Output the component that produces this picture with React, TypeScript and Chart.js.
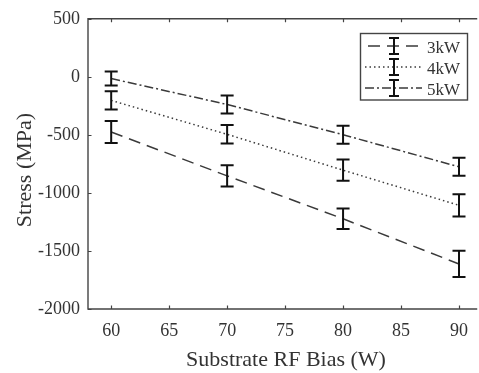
import React, { useEffect, useRef } from 'react';
import { Chart, registerables } from 'chart.js';

Chart.register(...registerables);

const xValues = [60, 70, 80, 90];
const stress3kW = [-475, -853, -1223, -1612];
const err3kW = [95, 92, 88, 113];
const stress4kW = [-203, -495, -804, -1107];
const err4kW = [78, 80, 91, 96];
const stress5kW = [-15, -238, -499, -775];
const err5kW = [60, 78, 78, 78];
const seriesLabels = ['3kW', '4kW', '5kW'];
const xTicks = [60, 65, 70, 75, 80, 85, 90];
const yTicks = [500, 0, -500, -1000, -1500, -2000];

const FONT = "'Liberation Serif', 'Times New Roman', serif";
const LINE_COLOR = '#3a3a3a';
const TEXT_COLOR = '#333';

const dashes = [[12, 7], [1.5, 3], [9, 3, 2, 3]];
const errors = [err3kW, err4kW, err5kW];
const values = [stress3kW, stress4kW, stress5kW];

const framePlugin = {
  id: 'frame',
  afterDraw(chart: any) {
    const { ctx, chartArea } = chart;
    const { left, right, top, bottom } = chartArea;
    const xs = chart.scales.x;
    const ys = chart.scales.y;
    ctx.save();
    ctx.strokeStyle = '#444';
    ctx.lineWidth = 1.4;
    ctx.setLineDash([]);
    ctx.beginPath();
    ctx.moveTo(right + 2, top);
    ctx.lineTo(left, top);
    ctx.lineTo(left, bottom);
    ctx.lineTo(right + 2, bottom);
    ctx.stroke();
    ctx.lineWidth = 1.2;
    ctx.beginPath();
    xTicks.forEach((v) => {
      const px = Math.round(xs.getPixelForValue(v)) + 0.5;
      ctx.moveTo(px, bottom);
      ctx.lineTo(px, bottom - 3.5);
      ctx.moveTo(px, top);
      ctx.lineTo(px, top + 3.5);
    });
    yTicks.forEach((v) => {
      const py = Math.round(ys.getPixelForValue(v)) + 0.5;
      ctx.moveTo(left, py);
      ctx.lineTo(left + 3.5, py);
    });
    ctx.stroke();
    ctx.restore();
  },
};

const errorBarPlugin = {
  id: 'errorBars',
  afterDatasetsDraw(chart: any) {
    const { ctx } = chart;
    const xs = chart.scales.x;
    const ys = chart.scales.y;
    ctx.save();
    ctx.strokeStyle = '#111';
    ctx.lineWidth = 2;
    ctx.setLineDash([]);
    values.forEach((vals, si) => {
      vals.forEach((v, i) => {
        const px = xs.getPixelForValue(xValues[i]);
        const yTop = ys.getPixelForValue(v + errors[si][i]);
        const yBot = ys.getPixelForValue(v - errors[si][i]);
        ctx.beginPath();
        ctx.moveTo(px, yTop);
        ctx.lineTo(px, yBot);
        ctx.moveTo(px - 6.5, yTop);
        ctx.lineTo(px + 6.5, yTop);
        ctx.moveTo(px - 6.5, yBot);
        ctx.lineTo(px + 6.5, yBot);
        ctx.stroke();
      });
    });
    ctx.restore();
  },
};

const legendPlugin = {
  id: 'customLegend',
  afterDraw(chart: any) {
    const { ctx } = chart;
    const bx = 360.5, by = 33.5, bw = 107, bh = 66.5;
    ctx.save();
    ctx.fillStyle = '#fff';
    ctx.fillRect(bx, by, bw, bh);
    ctx.strokeStyle = '#444';
    ctx.lineWidth = 1.4;
    ctx.setLineDash([]);
    ctx.strokeRect(bx, by, bw, bh);
    const rows = [46, 67, 88];
    seriesLabels.forEach((label, i) => {
      const y = rows[i];
      ctx.strokeStyle = LINE_COLOR;
      ctx.lineWidth = 1.5;
      ctx.setLineDash(dashes[i]);
      ctx.lineDashOffset = i === 0 ? -3 : 0;
      ctx.beginPath();
      ctx.moveTo(365, y);
      ctx.lineTo(422, y);
      ctx.stroke();
      ctx.setLineDash([]);
      ctx.lineDashOffset = 0;
      ctx.strokeStyle = '#111';
      ctx.lineWidth = 2;
      ctx.beginPath();
      ctx.moveTo(394, y - 8);
      ctx.lineTo(394, y + 8);
      ctx.moveTo(389, y - 8);
      ctx.lineTo(399, y - 8);
      ctx.moveTo(389, y + 8);
      ctx.lineTo(399, y + 8);
      ctx.stroke();
      ctx.fillStyle = TEXT_COLOR;
      ctx.font = `17px ${FONT}`;
      ctx.textAlign = 'left';
      ctx.textBaseline = 'alphabetic';
      ctx.fillText(label, 427, y + 7);
    });
    ctx.restore();
  },
};

const titlePlugin = {
  id: 'axisTitles',
  afterDraw(chart: any) {
    const { ctx } = chart;
    ctx.save();
    ctx.fillStyle = TEXT_COLOR;
    ctx.font = `22px ${FONT}`;
    ctx.textAlign = 'center';
    ctx.textBaseline = 'alphabetic';
    ctx.fillText('Substrate RF Bias (W)', 286, 366);
    ctx.translate(31, 170);
    ctx.rotate(-Math.PI / 2);
    ctx.fillText('Stress (MPa)', 0, 0);
    ctx.restore();
  },
};

export default function App() {
  const ref = useRef<HTMLCanvasElement>(null);
  useEffect(() => {
    const canvas = ref.current;
    if (!canvas) return;
    const chart = new Chart(canvas, {
      type: 'line',
      data: {
        datasets: values.map((vals, si) => ({
          label: seriesLabels[si],
          data: xValues.map((x, i) => ({ x, y: vals[i] })),
          borderColor: LINE_COLOR,
          borderWidth: 1.5,
          borderDash: dashes[si],
          pointRadius: 0,
          fill: false,
          tension: 0,
        })),
      },
      options: {
        responsive: false,
        animation: false,
        layout: { padding: { top: 15, left: 0, right: 0, bottom: 0 } },
        plugins: { legend: { display: false }, tooltip: { enabled: false } },
        scales: {
          x: {
            type: 'linear',
            min: 58,
            max: 91.4,
            grid: { display: false, drawTicks: false },
            border: { display: false },
            afterBuildTicks: (s: any) => {
              s.ticks = xTicks.map((v) => ({ value: v }));
            },
            afterFit: (s: any) => {
              s.height = 64;
            },
            ticks: {
              padding: 11,
              color: TEXT_COLOR,
              font: { family: FONT, size: 18 },
              maxRotation: 0,
              autoSkip: false,
              callback: (v: any) => String(v),
            },
          },
          y: {
            type: 'linear',
            min: -2000,
            max: 500,
            grid: { display: false, drawTicks: false },
            border: { display: false },
            afterBuildTicks: (s: any) => {
              s.ticks = yTicks.map((v) => ({ value: v }));
            },
            afterFit: (s: any) => {
              s.width = 88;
            },
            ticks: {
              padding: 8,
              color: TEXT_COLOR,
              font: { family: FONT, size: 18 },
              autoSkip: false,
              callback: (v: any) => String(v),
            },
          },
        },
      },
      plugins: [framePlugin, errorBarPlugin, legendPlugin, titlePlugin],
    } as any);
    return () => chart.destroy();
  }, []);
  return (
    <div style={{ position: 'absolute', left: 0, top: 0, width: 479, height: 373, background: '#fff' }}>
      <canvas ref={ref} width={479} height={373} style={{ display: 'block' }} />
    </div>
  );
}
